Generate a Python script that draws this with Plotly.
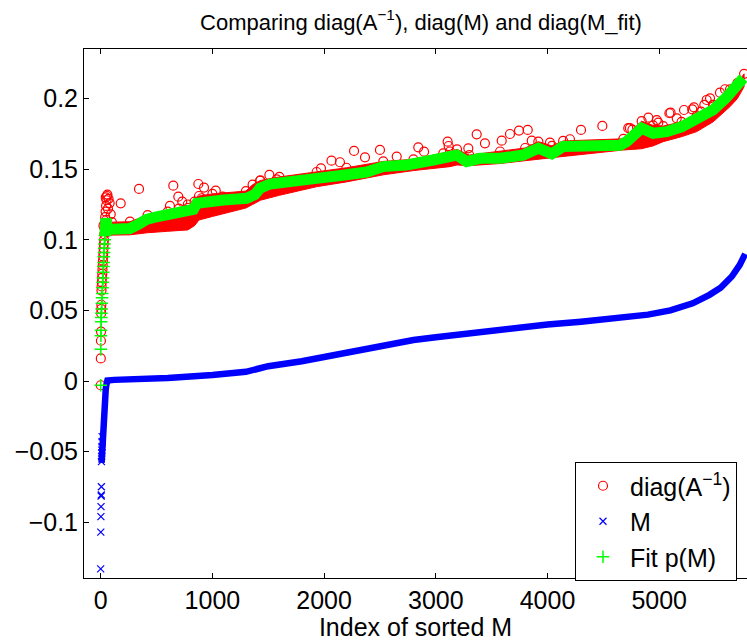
import plotly.graph_objects as go

# ---------------- data ----------------
# diag(A^-1): isolated circles in the first indices (left column)
a_col_idx = [0, 1, 2, 3, 4, 5, 6, 7, 8, 10, 12, 14, 16, 18, 20, 22, 24, 26, 28, 30,
             32, 35, 38, 40, 44, 48, 52, 56, 60, 70, 80, 90, 45, 25, 65]
a_col_val = [-0.003, 0.016, 0.0285, 0.035, 0.048, 0.051, 0.054, 0.064, 0.067, 0.070,
             0.073, 0.076, 0.079, 0.082, 0.085, 0.088, 0.091, 0.094, 0.097, 0.100,
             0.104, 0.108, 0.112, 0.116, 0.120, 0.124, 0.128, 0.131, 0.132, 0.129,
             0.126, 0.118, 0.130, 0.110, 0.122]
# diag(A^-1): outlying circles above the main band
a_out_idx = [179, 343, 620, 650, 695, 700, 730, 760, 780, 874, 904, 925, 1030, 1092,
             1426, 1510, 1575, 1972, 2066, 2142, 2268, 2366, 2500, 2650, 2843, 2895,
             3067, 3106, 3115, 3291, 3366, 3440, 3590, 3664, 3745, 3823, 3859, 4022,
             4201, 4300, 4491, 4723, 4738, 4903, 4978, 4992, 5091, 5102, 5157, 5222,
             5296, 5311, 5375, 5404, 5425, 5455, 5484, 5544, 5589, 5634]
a_out_val = [0.1258, 0.136, 0.124, 0.1383, 0.1305, 0.122, 0.127, 0.121, 0.125, 0.1395,
             0.1294, 0.137, 0.1348, 0.1305, 0.1418, 0.1459, 0.1428, 0.1506, 0.156,
             0.1549, 0.1629, 0.1584, 0.1636, 0.1589, 0.1655, 0.1624, 0.1612, 0.1695,
             0.1664, 0.1648, 0.1747, 0.1683, 0.1702, 0.1749, 0.1773, 0.1778, 0.1702,
             0.1688, 0.1712, 0.1778, 0.1806, 0.179, 0.179, 0.1865, 0.1848, 0.183,
             0.1896, 0.19, 0.186, 0.1919, 0.1924, 0.1938, 0.1907, 0.1955, 0.199,
             0.2002, 0.1955, 0.2042, 0.2066, 0.2013]
# diag(A^-1): envelope of the dense band (index, lower edge, upper edge)
band_idx = [50, 100, 262, 420, 600, 780, 840, 880, 1000, 1300, 1360, 1430, 1600, 1933,
            2200, 2530, 2800, 3127, 3190, 3300, 3575, 3800, 3918, 4040, 4140, 4679,
            4760, 4843, 4945, 5036, 5200, 5336, 5484, 5634, 5700, 5760]
band_lo = [0.102, 0.1033, 0.1035, 0.105, 0.106, 0.107, 0.110, 0.114, 0.1165, 0.1225,
           0.125, 0.128, 0.1315, 0.1376, 0.141, 0.146, 0.149, 0.1518, 0.153, 0.1525,
           0.154, 0.156, 0.157, 0.158, 0.159, 0.1636, 0.164, 0.1645, 0.1665, 0.1695,
           0.173, 0.1766, 0.1836, 0.1943, 0.200, 0.2084]
band_hi = [0.114, 0.1125, 0.1128, 0.1175, 0.120, 0.1225, 0.127, 0.131, 0.1325, 0.1345,
           0.139, 0.142, 0.1445, 0.148, 0.151, 0.1555, 0.157, 0.1625, 0.164, 0.160,
           0.1625, 0.165, 0.1695, 0.1665, 0.170, 0.1715, 0.178, 0.184, 0.181, 0.1805,
           0.1835, 0.188, 0.1955, 0.2065, 0.211, 0.2175]

# M (sorted): isolated crosses in the first indices
m_col_idx = [0, 1, 2, 3, 4, 5, 6, 7, 8, 9, 10, 11, 12, 13]
m_col_val = [-0.133, -0.107, -0.096, -0.089, -0.0815, -0.0807, -0.0749, -0.0571,
             -0.0536, -0.051, -0.0489, -0.0465, -0.043, -0.0394]
# M (sorted): dense curve
m_idx = [8, 12, 16, 20, 25, 30, 35, 40, 45, 50, 55, 60, 120, 300, 600, 1000, 1300,
         1400, 1500, 1800, 2000, 2200, 2500, 2800, 3000, 3300, 3600, 4000, 4300, 4600,
         4900, 5100, 5300, 5450, 5550, 5650, 5720, 5770]
m_val = [-0.058, -0.050, -0.041, -0.033, -0.025, -0.019, -0.014, -0.010, -0.006, -0.003,
         -0.001, 0.0004, 0.0008, 0.0012, 0.0022, 0.0042, 0.0065, 0.0085, 0.0105, 0.014,
         0.017, 0.021, 0.0255, 0.029, 0.031, 0.034, 0.037, 0.040, 0.042, 0.044, 0.047,
         0.050, 0.055, 0.061, 0.066, 0.074, 0.082, 0.090]

# Fit p(M): isolated plus markers in the first indices
f_col_idx = [0, 1, 2, 3, 4, 5, 6, 8, 10, 12, 14, 16, 18, 20, 22, 24, 26, 28, 30, 32, 34,
             36, 38]
f_col_val = [-0.003, 0.0224, 0.032, 0.036, 0.042, 0.045, 0.048, 0.051, 0.055, 0.059,
             0.062, 0.066, 0.070, 0.073, 0.077, 0.081, 0.084, 0.088, 0.091, 0.094, 0.097,
             0.100, 0.103]
# Fit p(M): dense curve
f_idx = [38, 42, 47, 52, 56, 60, 100, 180, 262, 340, 411, 500, 600, 700, 770, 830, 860,
         950, 1100, 1250, 1307, 1380, 1426, 1516, 1605, 1750, 1933, 2150, 2381, 2528,
         2739, 2976, 3127, 3187, 3276, 3396, 3575, 3782, 3918, 4038, 4139, 4400, 4649,
         4708, 4780, 4843, 4945, 5067, 5200, 5336, 5484, 5604, 5700, 5753]
f_val = [0.103, 0.110, 0.115, 0.112, 0.109, 0.108, 0.1075, 0.1078, 0.108, 0.111, 0.1145,
         0.1163, 0.1178, 0.1188, 0.120, 0.1215, 0.1258, 0.127, 0.1282, 0.129, 0.1294,
         0.132, 0.1365, 0.1395, 0.140, 0.1415, 0.1435, 0.1455, 0.148, 0.1518, 0.153,
         0.1565, 0.159, 0.160, 0.1553, 0.1577, 0.1577, 0.160, 0.1648, 0.1608, 0.166,
         0.1665, 0.167, 0.1695, 0.175, 0.179, 0.1754, 0.1766, 0.180, 0.1848, 0.192,
         0.201, 0.208, 0.2144]

x_ticks = [0, 1000, 2000, 3000, 4000, 5000]
y_ticks = [-0.1, -0.05, 0, 0.05, 0.1, 0.15, 0.2]

RED, BLUE, GREEN = "#FF0000", "#0000FF", "#00FF00"
FONT = "Liberation Sans, Arial, Helvetica, sans-serif"

fig = go.Figure()

# red band (dense circles) as filled envelope
fig.add_trace(go.Scatter(
    x=band_idx + band_idx[::-1], y=band_hi + band_lo[::-1],
    mode="lines", fill="toself", fillcolor=RED, line=dict(color=RED, width=1),
    showlegend=False, hoverinfo="skip"))
fig.add_trace(go.Scatter(
    x=band_idx, y=band_hi, mode="markers", showlegend=False,
    marker=dict(symbol="circle-open", size=9, color=RED, line=dict(width=1.2))))
fig.add_trace(go.Scatter(
    x=a_col_idx + a_out_idx, y=a_col_val + a_out_val, mode="markers",
    name="diag(A<sup>\u22121</sup>)",
    marker=dict(symbol="circle-open", size=9, color=RED, line=dict(width=1.2))))

# M
fig.add_trace(go.Scatter(
    x=m_idx, y=m_val, mode="lines", line=dict(color=BLUE, width=6.5),
    showlegend=False, hoverinfo="skip"))
fig.add_trace(go.Scatter(
    x=m_col_idx, y=m_col_val, mode="markers", name="M",
    marker=dict(symbol="x-thin-open", size=7, color=BLUE, line=dict(width=1.2, color=BLUE))))

# Fit p(M)
fig.add_trace(go.Scatter(
    x=f_idx, y=f_val, mode="lines", line=dict(color=GREEN, width=11),
    showlegend=False, hoverinfo="skip"))
fig.add_trace(go.Scatter(
    x=f_col_idx, y=f_col_val, mode="markers", name="Fit p(M)",
    marker=dict(symbol="cross-thin-open", size=9, color=GREEN, line=dict(width=1.5, color=GREEN))))

L, R, T, B = 84, 0, 49, 63
W, H = 747, 641

fig.update_layout(
    width=W, height=H,
    margin=dict(l=L, r=R, t=T, b=B),
    paper_bgcolor="white", plot_bgcolor="white",
    font=dict(family=FONT, size=25, color="black"),
    title=dict(text="Comparing diag(A<sup>\u22121</sup>), diag(M) and diag(M_fit)",
               x=(421 - L) / (W - L - R), xref="paper", xanchor="center",
               y=1 - 22 / H, yref="container", yanchor="middle",
               font=dict(size=22, family=FONT, color="black")),
    xaxis=dict(range=[-149.5, 5786], tickmode="array", tickvals=x_ticks,
               ticktext=[str(v) for v in x_ticks],
               ticks="inside", ticklen=5, tickwidth=1, tickcolor="black",
               showline=True, linecolor="black", linewidth=1, mirror="ticks",
               showgrid=False, zeroline=False,
               title=dict(text="Index of sorted M", font=dict(size=25), standoff=3),
               tickfont=dict(size=25)),
    yaxis=dict(range=[-0.1395, 0.2351], tickmode="array", tickvals=y_ticks,
               ticktext=["\u22120.1", "\u22120.05", "0", "0.05", "0.1", "0.15", "0.2"],
               ticks="inside", ticklen=5, tickwidth=1, tickcolor="black",
               showline=True, linecolor="black", linewidth=1, mirror=False,
               showgrid=False, zeroline=False, tickfont=dict(size=25)),
    legend=dict(x=(575 - L) / (W - L - R), y=(H - B - 462) / (H - T - B),
                xanchor="left", yanchor="top", bgcolor="white",
                bordercolor="black", borderwidth=1, font=dict(size=25),
                itemsizing="trace", itemwidth=44),
)

fig.write_html("out.html")
